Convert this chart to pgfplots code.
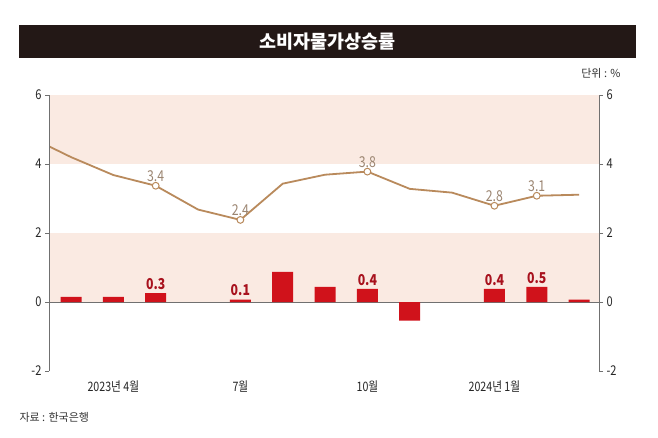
\documentclass[border=0pt]{standalone}
\usepackage{fontspec}
\setmainfont{Noto Sans CJK KR}
\newfontfamily\numfont[FakeStretch=0.82]{Noto Sans CJK KR}
\usepackage{pgfplots}
\pgfplotsset{compat=1.18}
\definecolor{band}{HTML}{FAEAE2}
\definecolor{barred}{HTML}{D0121B}
\definecolor{linetan}{HTML}{B98A5C}
\definecolor{lbltan}{HTML}{9C8672}
\definecolor{lblred}{HTML}{A8121E}
\definecolor{axgray}{HTML}{707070}
\definecolor{titlebg}{HTML}{231816}
\begin{document}
\begin{tikzpicture}[x=1pt,y=1pt]
\fill[white] (0,0) rectangle (658,437);
\fill[titlebg] (19,379) rectangle (636,412);
\node[white, font=\bfseries\fontsize{18.5}{21}\selectfont] at (327.5,395.5) {소비자물가상승률};
\node[anchor=east, font=\fontsize{11}{13}\selectfont, text=black!80] at (624,364) {단위 : \%};
\node[anchor=west, font=\fontsize{11}{13}\selectfont, text=black!80] at (16,20) {자료 : 한국은행};
\begin{axis}[at={(49pt,66pt)}, anchor=south west, scale only axis,
  width=550pt, height=276pt,
  xmin=-0.52, xmax=12.47, ymin=-2, ymax=6,
  axis on top,
  axis x line*=bottom, axis y line*=left,
  x axis line style={draw=none}, major x tick style={draw=none},
  y axis line style={axgray, line width=0.8pt},
  ytick={-2,0,2,4,6}, tick align=outside, major tick length=4pt,
  major y tick style={axgray, line width=0.8pt},
  xtick={1,4,7,10}, xticklabels={2023년 4월, 7월, 10월, 2024년 1월},
  /pgf/number format/assume math mode=true,
  yticklabel style={font=\numfont\fontsize{13.5}{15}\selectfont, text=black!85},
  xticklabel style={font=\numfont\fontsize{13}{15}\selectfont, text=black!85, yshift=-2pt},
]
\fill[band] (rel axis cs:0,0.25) rectangle (rel axis cs:1,0.5);
\fill[band] (rel axis cs:0,0.75) rectangle (rel axis cs:1,1);
\draw[axgray, line width=0.6pt] (rel axis cs:0,0.25) -- (rel axis cs:1,0.25);
\addplot[ybar, bar width=21pt, fill=barred, draw=none] coordinates {
 (0,0.15)(1,0.15)(2,0.26)(4,0.07)(5,0.87)(6,0.44)(7,0.38)(8,-0.54)(10,0.38)(11,0.44)(12,0.07)};
\addplot[draw=none, mark=none, nodes near coords, point meta=explicit symbolic,
  nodes near coords style={font=\numfont\bfseries\fontsize{15}{17}\selectfont, text=lblred, anchor=south, yshift=0pt}]
  coordinates {(2,0.26)[0.3] (4,0.07)[0.1] (7,0.38)[0.4] (10,0.38)[0.4] (11,0.44)[0.5]};
\addplot[linetan, line width=1.8pt, mark=none] coordinates {
 (-1,4.8)(0,4.2)(1,3.68)(2,3.37)(3,2.68)(4,2.38)(5,3.43)(6,3.69)(7,3.78)(8,3.28)(9,3.17)(10,2.79)(11,3.08)(12,3.11)};
\addplot[only marks, mark=*, mark size=3.4pt, mark options={fill=white, draw=linetan, line width=1pt},
  nodes near coords, point meta=explicit symbolic,
  nodes near coords style={font=\numfont\fontsize{15}{17}\selectfont, text=lbltan, anchor=south, yshift=0pt}]
  coordinates {(2,3.37)[3.4] (4,2.38)[2.4] (7,3.78)[3.8] (10,2.79)[2.8] (11,3.08)[3.1]};
\end{axis}
\begin{axis}[at={(49pt,66pt)}, anchor=south west, scale only axis,
  width=550pt, height=276pt,
  xmin=-0.52, xmax=12.47, ymin=-2, ymax=6,
  axis x line=none, axis y line*=right,
  y axis line style={axgray, line width=0.8pt},
  ytick={-2,0,2,4,6}, tick align=outside, major tick length=4pt,
  major y tick style={axgray, line width=0.8pt},
  /pgf/number format/assume math mode=true,
  yticklabel style={font=\numfont\fontsize{13.5}{15}\selectfont, text=black!85},
]
\addplot[draw=none] coordinates {(0,0)};
\end{axis}
\end{tikzpicture}
\end{document}
